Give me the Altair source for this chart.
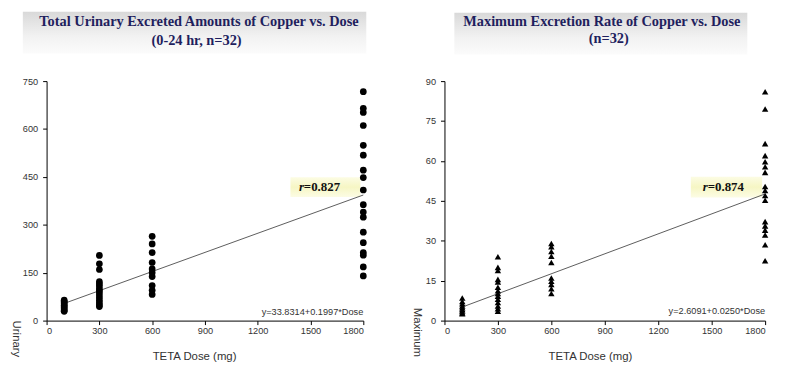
import altair as alt
import pandas as pd

# ---------------- data ----------------
DOSE_TICKS = [0, 300, 600, 900, 1200, 1500, 1800]

# Left panel: total urinary excreted copper (0-24 hr)
amt_100 = [64, 60, 56, 52, 48, 44, 40, 36, 32, 29]
amt_300 = [204, 178, 160, 122, 115, 108, 100, 94, 88, 80, 72, 64, 56, 49, 44]
amt_600 = [264, 240, 213, 182, 162, 150, 138, 110, 95, 82]
amt_1800 = [717, 665, 652, 611, 549, 518, 471, 448, 409, 363, 340, 324,
            277, 244, 213, 205, 168, 140]
amt_ticks = [0, 150, 300, 450, 600, 750]
amt_fit_x = [100, 1800]
amt_fit_y = [53.8, 393.3]

# Right panel: maximum excretion rate of copper
rate_100 = [8.5, 7.2, 6.3, 5.5, 4.8, 4.2, 3.6, 3.0, 2.6]
rate_300 = [24, 20, 18.8, 15.5, 14.5, 12.5, 11.2, 10.2, 9.2, 8, 6.8, 5.5, 4.5, 3.5]
rate_600 = [29, 27.8, 26, 24.2, 21.8, 16, 14.8, 13.6, 12, 10.2]
rate_1800 = [86, 79.5, 66.5, 62, 59.7, 57.8, 55.7, 50.4, 48.9, 47, 45.2,
             37.2, 35.6, 34, 32.2, 28.5, 22.5]
rate_ticks = [0, 15, 30, 45, 60, 75, 90]
rate_fit_x = [100, 1800]
rate_fit_y = [5.1, 47.6]

left_title = ["Total Urinary Excreted Amounts of Copper vs. Dose", "(0-24 hr, n=32)"]
right_title = ["Maximum Excretion Rate of Copper vs. Dose", "(n=32)"]
left_ytitle = "Urinary Excreted Amount of Copper"
right_ytitle = "Maximum Excretion Rate of Copper"
x_title = "TETA Dose (mg)"
left_r = "0.827"
right_r = "0.874"
left_eq = "y=33.8314+0.1997*Dose"
right_eq = "y=2.6091+0.0250*Dose"

# ---------------- helpers ----------------
H = 242
LABEL_FONT = "Liberation Sans"
SERIF = "Liberation Serif"
TXT = "#333333"
NAVY = "#1f1f5e"


def long_df(groups):
    rows = []
    for d, vals in groups:
        for v in vals:
            rows.append({"dose": d, "val": v})
    return pd.DataFrame(rows)


def one(**kw):
    return pd.DataFrame({k: [v] for k, v in kw.items()})


title_grad = alt.Gradient(
    gradient="linear",
    stops=[alt.GradientStop(color="#d9d9d9", offset=0),
           alt.GradientStop(color="#f2f2f2", offset=0.6),
           alt.GradientStop(color="#fbfbfb", offset=1)],
    x1=0, x2=0, y1=0, y2=1,
)
r_grad = alt.Gradient(
    gradient="linear",
    stops=[alt.GradientStop(color="#fcfce4", offset=0),
           alt.GradientStop(color="#f6f6c4", offset=0.5),
           alt.GradientStop(color="#fcfce4", offset=1)],
    x1=0, x2=0, y1=0, y2=1,
)


def panel(df, shape, size, yticks, ymax, fit_x, fit_y, width, frame, tbox,
          t1pos, t2pos, titles, ytitle, ytpos, ylimit, rbox, rpos, rtext,
          eq, eqy, xtitle_x):
    xs = alt.Scale(domain=[0, 1800], nice=False)
    ys = alt.Scale(domain=[0, ymax], nice=False)
    xaxis = alt.Axis(values=DOSE_TICKS, format="d", grid=False, domainColor="black",
                     tickColor="black", tickSize=4, labelFont=LABEL_FONT,
                     labelFontSize=9.3, labelColor=TXT, labelPadding=2,
                     title=x_title, titleFont=LABEL_FONT, titleFontSize=11.5,
                     titleFontWeight="normal", titleColor=TXT,
                     titleX=xtitle_x, titleY=39, titleBaseline="alphabetic",
                     titleAlign="center")
    yaxis = alt.Axis(values=yticks, format="d", grid=False, domainColor="black",
                     tickColor="black", tickSize=4, labelFont=LABEL_FONT,
                     labelFontSize=9.3, labelColor=TXT, labelPadding=5,
                     title=None)

    fr = alt.Chart(one(k=0)).mark_rect(opacity=0).encode(
        x=alt.value(frame[0]), x2=alt.value(frame[1]),
        y=alt.value(frame[2]), y2=alt.value(frame[3]))
    box = alt.Chart(one(k=0)).mark_rect(color=title_grad).encode(
        x=alt.value(tbox[0]), x2=alt.value(tbox[1]),
        y=alt.value(tbox[2]), y2=alt.value(tbox[3]))
    t1 = alt.Chart(one(t=titles[0])).mark_text(
        font=SERIF, fontSize=14.5, fontWeight="bold", color=NAVY,
        align="center", baseline="alphabetic").encode(
        x=alt.value(t1pos[0]), y=alt.value(t1pos[1]), text="t:N")
    t2 = alt.Chart(one(t=titles[1])).mark_text(
        font=SERIF, fontSize=14.5, fontWeight="bold", color=NAVY,
        align="center", baseline="alphabetic").encode(
        x=alt.value(t2pos[0]), y=alt.value(t2pos[1]), text="t:N")
    yt = alt.Chart(one(t=ytitle)).mark_text(
        angle=90, align="left", baseline="middle", font=LABEL_FONT,
        fontSize=11.5, color=TXT, limit=ylimit, ellipsis=" ").encode(
        x=alt.value(ytpos[0]), y=alt.value(ytpos[1]), text="t:N")

    rb = alt.Chart(one(x1=rbox[0], x2=rbox[1], y1=rbox[2], y2=rbox[3])).mark_rect(
        color=r_grad).encode(
        x=alt.X("x1:Q", scale=xs), x2="x2:Q",
        y=alt.Y("y1:Q", scale=ys), y2="y2:Q")
    rr = alt.Chart(one(x=rpos[0], y=rpos[1], t="r")).mark_text(
        font=SERIF, fontSize=13, fontWeight="bold", fontStyle="italic",
        color="#111111", align="left", baseline="middle").encode(
        x=alt.X("x:Q", scale=xs), y=alt.Y("y:Q", scale=ys), text="t:N")
    rv = alt.Chart(one(x=rpos[0], y=rpos[1], t="=" + rtext)).mark_text(
        font=SERIF, fontSize=13, fontWeight="bold", color="#111111",
        align="left", baseline="middle", dx=5).encode(
        x=alt.X("x:Q", scale=xs), y=alt.Y("y:Q", scale=ys), text="t:N")
    eqt = alt.Chart(one(x=1800, y=eqy, t=eq)).mark_text(
        font=LABEL_FONT, fontSize=9.3, color=TXT, align="right",
        baseline="alphabetic").encode(
        x=alt.X("x:Q", scale=xs), y=alt.Y("y:Q", scale=ys), text="t:N")

    fit = alt.Chart(pd.DataFrame({"dose": fit_x, "val": fit_y})).mark_line(
        color="#333333", strokeWidth=0.8).encode(
        x=alt.X("dose:Q", scale=xs, axis=xaxis),
        y=alt.Y("val:Q", scale=ys, axis=yaxis))
    pts = alt.Chart(df).mark_point(shape=shape, filled=True, color="black",
                                   opacity=1, size=size).encode(
        x=alt.X("dose:Q", scale=xs, axis=xaxis),
        y=alt.Y("val:Q", scale=ys, axis=yaxis))

    return alt.layer(fr, box, t1, t2, yt, rb, fit, pts, rr, rv, eqt).properties(
        width=width, height=H)


left_df = long_df([(100, amt_100), (300, amt_300), (600, amt_600), (1800, amt_1800)])
right_df = long_df([(100, rate_100), (300, rate_300), (600, rate_600), (1800, rate_1800)])

left = panel(left_df, "circle", 46, amt_ticks, 750, amt_fit_x, amt_fit_y, 320,
             frame=(-39, 353, -72, 285), tbox=(-24, 323, -70, -28),
             t1pos=(154, -55.5), t2pos=(151.5, -36), titles=left_title,
             ytitle=left_ytitle, ytpos=(-31, 242), ylimit=44,
             rbox=(1386, 1783, 387, 449), rpos=(1434, 418), rtext=left_r,
             eq=left_eq, eqy=19, xtitle_x=149)

right = panel(right_df, "triangle-up", 42, rate_ticks, 90, rate_fit_x, rate_fit_y, 324,
              frame=(-49, 336, -72, 285), tbox=(10, 306, -69, -27),
              t1pos=(159, -56), t2pos=(166, -38), titles=right_title,
              ytitle=right_ytitle, ytpos=(-27.5, 229), ylimit=54,
              rbox=(1383, 1783, 46.3, 54.1), rpos=(1450, 50.2), rtext=right_r,
              eq=right_eq, eqy=2.6, xtitle_x=147)

chart = alt.hconcat(left, right, spacing=0).properties(
    padding=0, background="white"
).configure_view(stroke=None)

chart.save("out.html", embed_options={"renderer": "svg", "actions": False})
